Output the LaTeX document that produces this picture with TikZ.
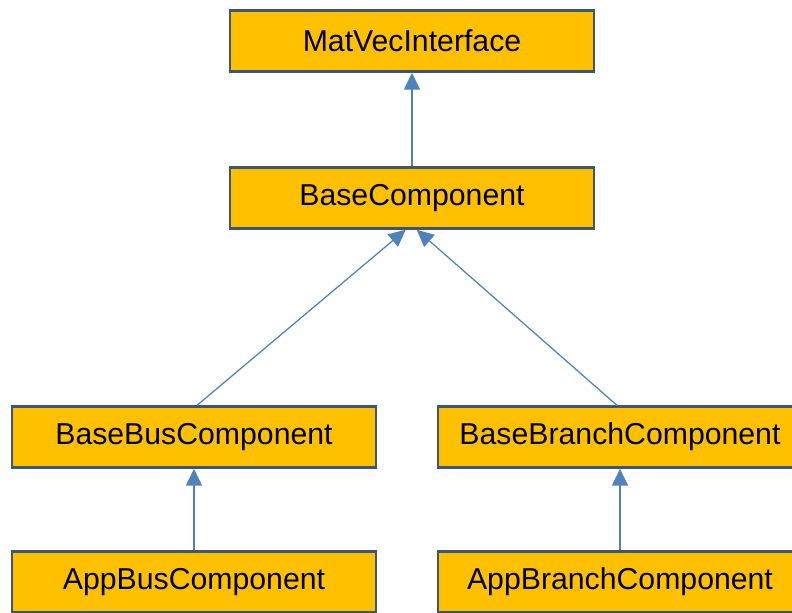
\documentclass[tikz,border=0pt]{standalone}
\usepackage{fontspec}
\setmainfont{Liberation Sans}
\usetikzlibrary{arrows.meta}

\definecolor{boxfill}{HTML}{FFC000}
\definecolor{boxline}{HTML}{3C5675}
\definecolor{linkblue}{HTML}{4F81BD}

\begin{document}
\begin{tikzpicture}[x=0.025cm, y=-0.025cm,
        cls/.style={rectangle, draw=boxline, line width=2pt, fill=boxfill,
                    minimum width=9.1cm, minimum height=1.52cm, inner sep=0pt,
                    font=\fontsize{21.5}{26}\selectfont},
        inherit/.style={draw=linkblue, line width=0.9pt,
                        -{Triangle[length=4.2mm, width=4mm]}}]
                \useasboundingbox (0,0) rectangle (792,613);

                \node[cls] (mat) at (412,41) {MatVecInterface};
                \node[cls] (base) at (412,198) {BaseComponent};
                \node[cls] (bus) at (194,437) {BaseBusComponent};
                \node[cls] (branch) at (620,437) {BaseBranchComponent};
                \node[cls] (appbus) at (194,582) {AppBusComponent};
                \node[cls] (appbranch) at (620,582) {AppBranchComponent};

                \foreach \i/\j in {base/mat, appbus/bus, appbranch/branch} {
                    \draw[inherit] (\i) -- (\j);
                }

                \draw[inherit] ([xshift=0.08cm]bus.north) -- ([xshift=-0.16cm]base.south);
                \draw[inherit] ([xshift=-0.08cm]branch.north) -- ([xshift=0.12cm]base.south);
            \end{tikzpicture}
\end{document}
